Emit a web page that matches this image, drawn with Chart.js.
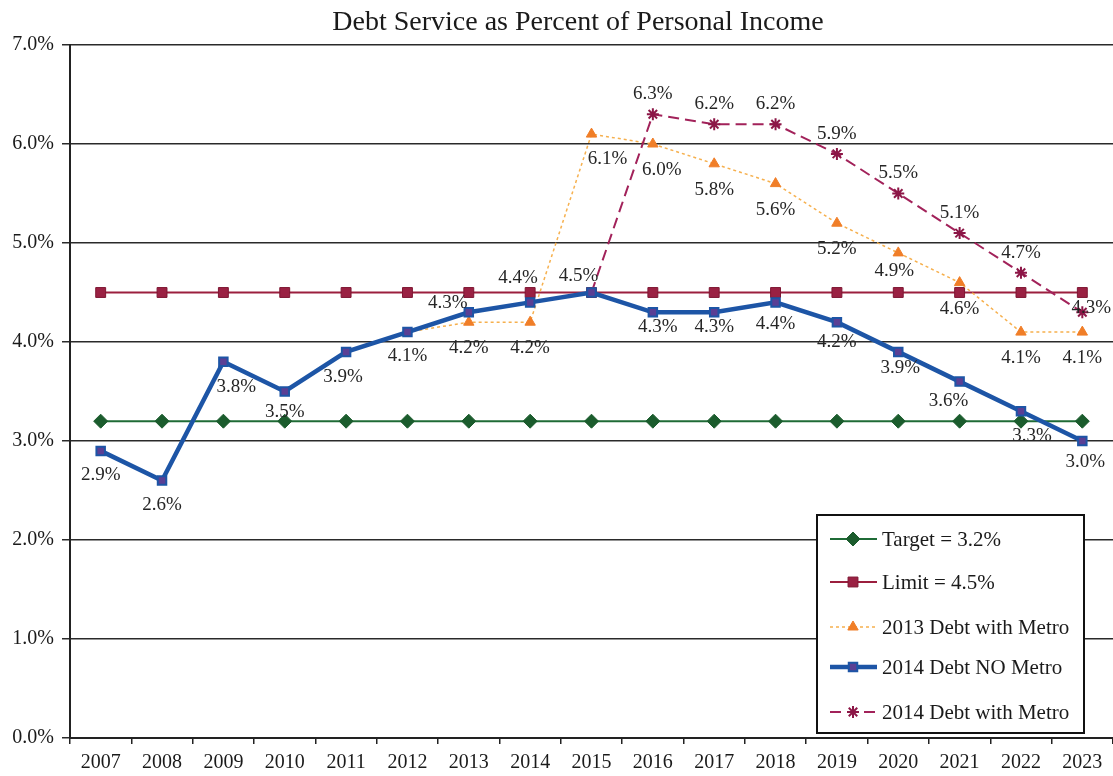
<!DOCTYPE html>
<html>
<head>
<meta charset="utf-8">
<script src="https://cdn.jsdelivr.net/npm/chart.js@4/dist/chart.umd.min.js"></script>
<style>
  html, body { margin: 0; padding: 0; background: #ffffff; }
  #wrap { width: 1113px; height: 776px; position: relative; }
</style>
</head>
<body>
<div id="wrap"><canvas id="chart" width="1113" height="776"></canvas></div>
<script>
// Fiscal years on the horizontal axis
const years = ['2007','2008','2009','2010','2011','2012','2013','2014','2015',
               '2016','2017','2018','2019','2020','2021','2022','2023'];

// Policy lines (percent of personal income)
const target = [3.2,3.2,3.2,3.2,3.2,3.2,3.2,3.2,3.2,3.2,3.2,3.2,3.2,3.2,3.2,3.2,3.2];
const limit  = [4.5,4.5,4.5,4.5,4.5,4.5,4.5,4.5,4.5,4.5,4.5,4.5,4.5,4.5,4.5,4.5,4.5];

// Debt service projections
const debt2013WithMetro = [null,null,null,null,null,4.1,4.2,4.2,6.1,6.0,5.8,5.6,5.2,4.9,4.6,4.1,4.1];
const debt2014NoMetro   = [2.9,2.6,3.8,3.5,3.9,4.1,4.3,4.4,4.5,4.3,4.3,4.4,4.2,3.9,3.6,3.3,3.0];
const debt2014WithMetro = [null,null,null,null,null,null,null,null,4.5,6.3,6.2,6.2,5.9,5.5,5.1,4.7,4.3];

// Y axis ticks
const yTicks = [0,1,2,3,4,5,6,7];

const SERIF = '"Liberation Serif", "Times New Roman", serif';

// Value label placement: default offset per series, with per-year adjustments
const labelStyle = {
  noMetro: { dx: 0, dy: 24, skip: [], adjust: {
      '2009': [13, 25], '2010': [0, 21], '2011': [-3, 25],
      '2013': [-21, -9], '2014': [-12, -24], '2015': [-13, -16],
      '2016': [5, 15], '2017': [0, 15], '2018': [0, 22], '2019': [0, 20],
      '2020': [2, 16], '2021': [-11, 19], '2022': [11, 25], '2023': [3, 21] } },
  metro2013: { dx: 0, dy: 26, skip: ['2012'], adjust: {
      '2015': [16, 25], '2016': [9, 26], '2020': [-4, 18] } },
  metro2014: { dx: 0, dy: -20, skip: ['2015'], adjust: {
      '2023': [9, -4] } }
};

// First point of each projection joins the base line, so no marker there
function hideFirst(values, r) {
  const first = values.findIndex(v => v !== null);
  return ctx => ctx.dataIndex === first ? 0 : r;
}

const valueLabels = {
  id: 'valueLabels',
  afterDatasetsDraw(chart) {
    const ctx = chart.ctx;
    ctx.save();
    ctx.font = '19px ' + SERIF;
    ctx.fillStyle = '#262626';
    ctx.textAlign = 'center';
    ctx.textBaseline = 'middle';
    chart.data.datasets.forEach((ds, di) => {
      const st = labelStyle[ds.key];
      if (!st) return;
      const meta = chart.getDatasetMeta(di);
      ds.data.forEach((v, i) => {
        if (v === null) return;
        const yr = years[i];
        if (st.skip.includes(yr)) return;
        const pt = meta.data[i];
        const off = st.adjust[yr] || [st.dx, st.dy];
        ctx.fillText(v.toFixed(1) + '%', pt.x + off[0], pt.y + off[1]);
      });
    });
    ctx.restore();
  }
};

const titleAndLegend = {
  id: 'titleAndLegend',
  afterDraw(chart) {
    const ctx = chart.ctx;
    ctx.save();
    // Title
    ctx.font = '28px ' + SERIF;
    ctx.fillStyle = '#1a1a1a';
    ctx.textAlign = 'center';
    ctx.textBaseline = 'alphabetic';
    ctx.fillText('Debt Service as Percent of Personal Income', 578, 30);

    // Legend box
    const bx = 817, by = 515, bw = 267, bh = 218;
    ctx.fillStyle = '#ffffff';
    ctx.fillRect(bx, by, bw, bh);
    ctx.lineWidth = 2;
    ctx.strokeStyle = '#111111';
    ctx.strokeRect(bx, by, bw, bh);

    const rowsY = [539, 582, 627, 667, 712];
    const order = ['target', 'limit', 'metro2013', 'noMetro', 'metro2014'];
    order.forEach((key, r) => {
      const ds = chart.data.datasets.find(d => d.key === key);
      const y = rowsY[r];
      ctx.save();
      ctx.strokeStyle = ds.borderColor;
      ctx.lineWidth = ds.borderWidth;
      ctx.setLineDash(ds.borderDash || []);
      ctx.beginPath();
      ctx.moveTo(830, y);
      ctx.lineTo(877, y);
      ctx.stroke();
      ctx.setLineDash([]);
      ctx.fillStyle = ds.pointBackgroundColor;
      ctx.strokeStyle = ds.pointBorderColor;
      ctx.lineWidth = ds.pointBorderWidth;
      Chart.helpers.drawPoint(ctx, {
        pointStyle: ds.pointStyle, radius: ds.legendRadius, rotation: 0,
        borderWidth: ds.pointBorderWidth
      }, 853, y);
      ctx.restore();
      ctx.font = '21px ' + SERIF;
      ctx.fillStyle = '#1a1a1a';
      ctx.textAlign = 'left';
      ctx.textBaseline = 'middle';
      ctx.fillText(ds.label, 882, y + 1);
    });
    ctx.restore();
  }
};

new Chart(document.getElementById('chart'), {
  type: 'line',
  data: {
    labels: years,
    datasets: [
      {
        key: 'noMetro', label: '2014 Debt NO Metro', data: debt2014NoMetro, order: 0,
        borderColor: '#1d55a6', borderWidth: 4.5,
        pointStyle: 'rect', pointRadius: 6, legendRadius: 6,
        pointBackgroundColor: '#5a3f94', pointBorderColor: '#1d55a6', pointBorderWidth: 2
      },
      {
        key: 'target', label: 'Target = 3.2%', data: target, order: 1,
        borderColor: '#1f6b36', borderWidth: 2,
        pointStyle: 'rectRot', pointRadius: 7, legendRadius: 7,
        pointBackgroundColor: '#1b5c2d', pointBorderColor: '#1b5c2d', pointBorderWidth: 1
      },
      {
        key: 'metro2014', label: '2014 Debt with Metro', data: debt2014WithMetro, order: 2,
        borderColor: '#a2225a', borderWidth: 2, borderDash: [11, 6],
        pointStyle: 'star', pointRadius: hideFirst(debt2014WithMetro, 6), legendRadius: 6,
        pointBackgroundColor: '#8c1747', pointBorderColor: '#8c1747', pointBorderWidth: 2
      },
      {
        key: 'metro2013', label: '2013 Debt with Metro', data: debt2013WithMetro, order: 3,
        borderColor: '#f6b04e', borderWidth: 1.5, borderDash: [3, 3],
        pointStyle: 'triangle', pointRadius: hideFirst(debt2013WithMetro, 6), legendRadius: 6,
        pointBackgroundColor: '#f07e28', pointBorderColor: '#f07e28', pointBorderWidth: 1
      },
      {
        key: 'limit', label: 'Limit = 4.5%', data: limit, order: 4,
        borderColor: '#9b1f3e', borderWidth: 2,
        pointStyle: 'rect', pointRadius: 7, legendRadius: 7,
        pointBackgroundColor: '#9a2143', pointBorderColor: '#7e1733', pointBorderWidth: 1
      }
    ]
  },
  options: {
    responsive: false,
    animation: false,
    layout: { autoPadding: false, padding: { top: 45, right: 0, bottom: 0, left: 0 } },
    elements: { line: { tension: 0, fill: false }, point: { hoverRadius: 6 } },
    plugins: { legend: { display: false }, title: { display: false }, tooltip: { enabled: false } },
    scales: {
      x: {
        offset: true,
        grid: { offset: true, drawOnChartArea: false, drawTicks: true, tickLength: 6,
                color: '#222', lineWidth: 1.5 },
        border: { display: true, color: '#222', width: 2 },
        ticks: { color: '#1a1a1a', font: { family: SERIF, size: 20 }, padding: 7,
                 maxRotation: 0, autoSkip: false },
        afterFit(scale) {
          scale.height = 38;
          scale.paddingLeft = 0;
          scale.paddingRight = 0;
        }
      },
      y: {
        min: 0, max: 7,
        afterBuildTicks(scale) { scale.ticks = yTicks.map(v => ({ value: v })); },
        grid: { color: '#2a2a2a', lineWidth: 1.5, tickLength: 8 },
        border: { display: true, color: '#222', width: 2 },
        ticks: { color: '#1a1a1a', font: { family: SERIF, size: 20 }, padding: 8,
                 callback: v => v.toFixed(1) + '%' },
        afterFit(scale) { scale.width = 70; }
      }
    }
  },
  plugins: [valueLabels, titleAndLegend]
});
</script>
</body>
</html>
